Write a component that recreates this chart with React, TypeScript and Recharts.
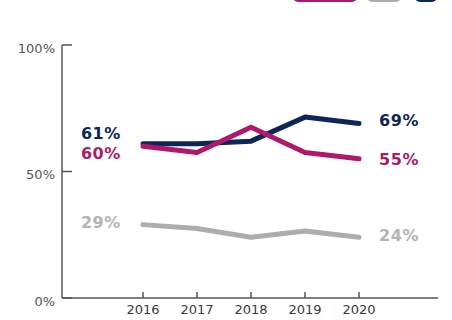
import React from "react";
import { LineChart, Line, XAxis, YAxis } from "recharts";

const years = ["2016", "2017", "2018", "2019", "2020"];
const navyValues = [61, 61, 62, 71.5, 69];
const magentaValues = [60, 57.5, 67.5, 57.5, 55];
const grayValues = [29, 27.5, 24, 26.5, 24];
const yTicks = [0, 50, 100];

const data = years.map((year, i) => ({
  year,
  navy: navyValues[i],
  magenta: magentaValues[i],
  gray: grayValues[i],
}));

// drawing order: gray under, magenta on top
const series = [
  { key: "gray", color: "#adadaf", text: "#b3b3b5", leftDy: -2, rightDy: -2 },
  { key: "navy", color: "#0c2658", text: "#0c2658", leftDy: -10, rightDy: -3 },
  { key: "magenta", color: "#b0186b", text: "#b0186b", leftDy: 7, rightDy: 0 },
];

const legendBoxes = [
  { color: "#b0186b", left: 293, width: 64 },
  { color: "#adadaf", left: 367, width: 34 },
  { color: "#0c2658", left: 415, width: 22 },
];

const FONT = "'DejaVu Sans', sans-serif";

function endLabel(s: (typeof series)[number]) {
  return (props: any) => {
    const { x, y, index, value } = props;
    if (index !== 0 && index !== years.length - 1) return null;
    const first = index === 0;
    return (
      <text
        key={`${s.key}-${index}`}
        x={first ? x - 22 : x + 20}
        y={y + (first ? s.leftDy : s.rightDy)}
        dy="0.36em"
        textAnchor={first ? "end" : "start"}
        fill={s.text}
        fontSize={16}
        fontWeight={700}
        letterSpacing={0.6}
        fontFamily={FONT}
      >
        {Math.round(value)}%
      </text>
    );
  };
}

export default function App() {
  return (
    <div
      style={{
        position: "absolute",
        left: 0,
        top: 0,
        width: 452,
        height: 320,
        overflow: "hidden",
        background: "#fff",
      }}
    >
      {legendBoxes.map((b) => (
        <div
          key={b.left}
          style={{
            position: "absolute",
            top: -20,
            left: b.left,
            width: b.width - 4,
            height: 18,
            border: `2px solid ${b.color}`,
            borderRadius: 5,
            background: "#fff",
          }}
        />
      ))}
      <LineChart
        width={452}
        height={320}
        data={data}
        margin={{ top: 45, right: 14, bottom: 0, left: 0 }}
      >
        <XAxis
          dataKey="year"
          height={22}
          padding={{ left: 81, right: 79 }}
          axisLine={{ stroke: "#555", strokeWidth: 1.5 }}
          tickLine={{ stroke: "#555", strokeWidth: 1.5 }}
          tickSize={-6}
          tickMargin={13}
          tick={{ fill: "#3a3a3a", fontSize: 13, fontFamily: FONT }}
        />
        <YAxis
          width={62}
          domain={[0, 100]}
          ticks={yTicks}
          tickFormatter={(v) => `${v}%`}
          axisLine={{ stroke: "#555", strokeWidth: 1.5 }}
          tickLine={{ stroke: "#555", strokeWidth: 1.5 }}
          tickSize={-10}
          tickMargin={17}
          tick={{ fill: "#555", fontSize: 13, fontFamily: FONT, dy: 3 }}
        />
        {series.map((s) => (
          <Line
            key={s.key}
            dataKey={s.key}
            stroke={s.color}
            strokeWidth={5}
            strokeLinecap="round"
            strokeLinejoin="round"
            dot={false}
            activeDot={false}
            isAnimationActive={false}
            label={endLabel(s)}
          />
        ))}
      </LineChart>
    </div>
  );
}
